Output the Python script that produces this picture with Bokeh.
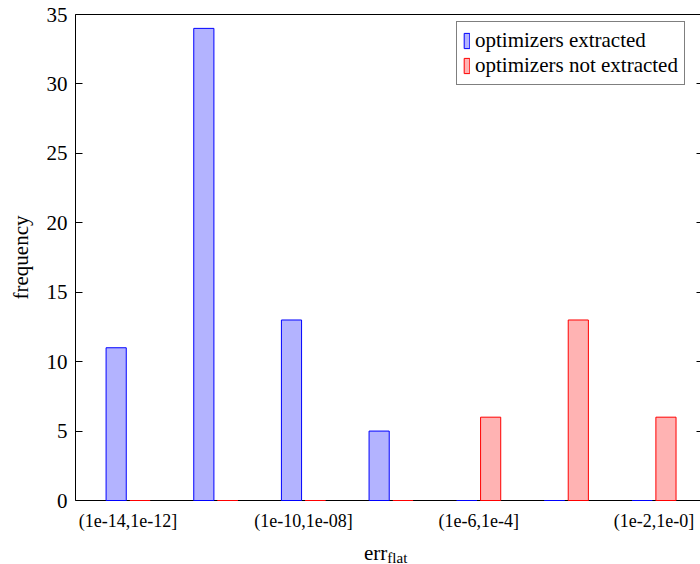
from bokeh.plotting import figure
from bokeh.models import (Range1d, FixedTicker, LinearAxis, Legend, LegendItem,
                          ColumnDataSource, Div)
from bokeh.layouts import column
from bokeh.transform import dodge
from bokeh.embed import file_html
from bokeh.resources import INLINE

categories = ["(1e-14,1e-12]", "(1e-12,1e-10]", "(1e-10,1e-08]", "(1e-08,1e-6]",
              "(1e-6,1e-4]", "(1e-4,1e-2]", "(1e-2,1e-0]"]
extracted = [11, 34, 13, 5, 0, 0, 0]
not_extracted = [0, 0, 0, 0, 6, 13, 6]
y_ticks = [0, 5, 10, 15, 20, 25, 30, 35]
labeled_idx = [0, 2, 4, 6]
series_names = ["optimizers extracted", "optimizers not extracted"]
x_label_main = "err"
x_label_sub = "flat"

FONT = "Liberation Serif"
xs = list(range(len(categories)))
src = ColumnDataSource(dict(x=xs, ext=extracted, nxt=not_extracted))

p = figure(width=700, height=540, output_backend="svg", toolbar_location=None,
           x_range=Range1d(-0.6, 6.53), y_range=Range1d(0, 35),
           min_border_left=75, min_border_right=0, min_border_top=14, min_border_bottom=40)
p.xgrid.visible = False
p.ygrid.visible = False
p.outline_line_color = None
p.background_fill_color = "white"

r1 = p.vbar(x=dodge('x', -0.136, range=p.x_range), top='ext', width=0.23, bottom=0, source=src,
            fill_color="#b3b3ff", line_color="#0000ff", line_width=1, level="overlay")
r2 = p.vbar(x=dodge('x', 0.136, range=p.x_range), top='nxt', width=0.23, bottom=0, source=src,
            fill_color="#ffb3b3", line_color="#ff0000", line_width=1, level="overlay")

# x axis
xa = p.xaxis[0]
xa.ticker = FixedTicker(ticks=labeled_idx)
xa.major_label_overrides = {i: categories[i] for i in labeled_idx}
xa.major_tick_in = 0
xa.major_tick_out = 0
xa.minor_tick_line_color = None
xa.major_label_standoff = 10
xa.major_label_text_font = FONT
xa.major_label_text_font_size = "18px"
xa.major_label_text_color = "black"
xa.axis_line_color = "black"

# y axis
ya = p.yaxis[0]
ya.ticker = FixedTicker(ticks=y_ticks)
ya.major_tick_in = 7
ya.major_tick_out = 0
ya.minor_tick_line_color = None
ya.major_label_standoff = 8
ya.major_label_text_font = FONT
ya.major_label_text_font_size = "21px"
ya.major_label_text_color = "black"
ya.axis_label = "frequency"
ya.axis_label_text_font = FONT
ya.axis_label_text_font_size = "21px"
ya.axis_label_text_font_style = "normal"
ya.axis_label_text_color = "black"
ya.axis_label_standoff = 11
ya.axis_line_color = "black"

# top frame line
top = LinearAxis(ticker=FixedTicker(ticks=[]), major_tick_line_color=None,
                 minor_tick_line_color=None, major_label_standoff=0,
                 axis_line_color="black")
p.add_layout(top, "above")

# right ticks
right = LinearAxis(ticker=FixedTicker(ticks=y_ticks), major_tick_in=4, major_tick_out=0,
                   minor_tick_line_color=None, major_label_standoff=0,
                   major_label_overrides={t: "" for t in y_ticks},
                   axis_line_color=None)
p.add_layout(right, "right")

legend = Legend(items=[LegendItem(label=series_names[0], renderers=[r1]),
                       LegendItem(label=series_names[1], renderers=[r2])],
                location=(381, 415), glyph_width=7, glyph_height=19, label_standoff=5,
                padding=6, spacing=0, margin=0, border_line_color="black", border_line_width=1,
                label_text_font=FONT, label_text_font_size="21px", label_text_color="black",
                background_fill_alpha=1)
p.add_layout(legend)

# x axis label err_flat with a real subscript
xlabel = Div(width=700, height=24,
             text=('<div style="padding-left:359px; padding-bottom:1px; line-height:17px;'
                   ' font-family:\'Liberation Serif\'; font-size:21px; color:black; white-space:nowrap;">'
                   + x_label_main +
                   '<span style="font-size:15px; vertical-align:-3px;">'
                   + x_label_sub + '</span></div>'))

open("out.html", "w").write(file_html(column(p, xlabel, spacing=0), INLINE))
